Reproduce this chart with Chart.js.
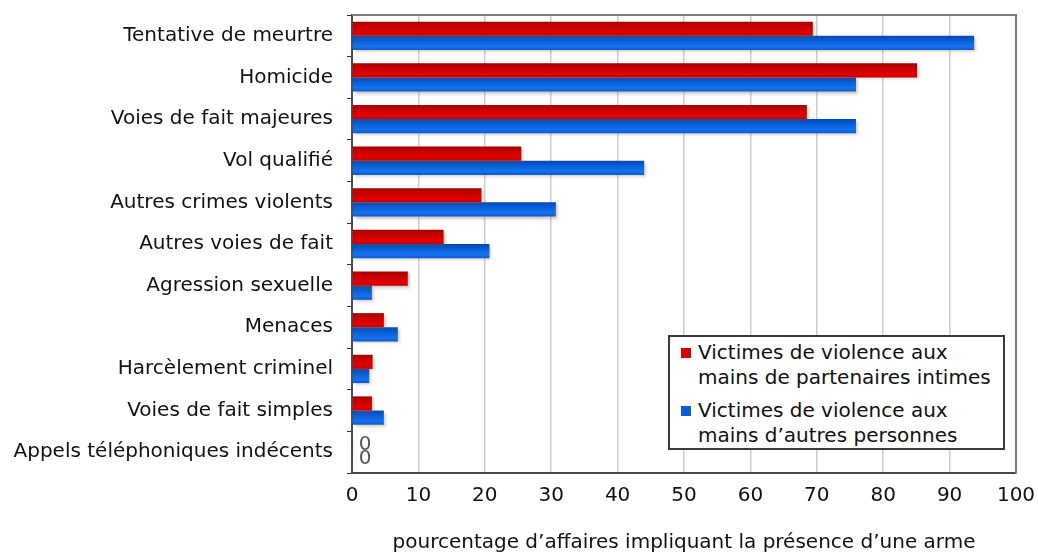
<!DOCTYPE html>
<html lang="fr">
<head>
<meta charset="utf-8">
<script src="https://cdn.jsdelivr.net/npm/chart.js@4"></script>
<style>
  html, body { margin: 0; padding: 0; background: #fff; }
  #wrap { position: relative; width: 1038px; height: 555px; }
  #legend {
    position: absolute; left: 668px; top: 335px; width: 333px; height: 108px;
    border: 2px solid #3a3a3a; background: #fff;
    font-family: "DejaVu Sans", sans-serif; font-size: 20px; line-height: 25px; color: #111;
    padding-top: 3px; box-sizing: content-box;
  }
  #legend .item { position: relative; padding-left: 28px; margin-bottom: 8px; white-space: nowrap; }
  #legend .swatch { position: absolute; left: 11px; top: 8px; width: 10px; height: 10px; }
</style>
</head>
<body>
<div id="wrap">
  <canvas id="chart" width="1038" height="555"></canvas>
  <div id="legend"></div>
</div>
<script>
const categories = [
    'Tentative de meurtre',
    'Homicide',
    'Voies de fait majeures',
    'Vol qualifié',
    'Autres crimes violents',
    'Autres voies de fait',
    'Agression sexuelle',
    'Menaces',
    'Harcèlement criminel',
    'Voies de fait simples',
    'Appels téléphoniques indécents',
];
const partenairesIntimes = [69.4, 85.1, 68.5, 25.5, 19.5, 13.8, 8.4, 4.8, 3.1, 3.0, 0];
const autresPersonnes = [93.7, 75.9, 75.9, 44.0, 30.7, 20.7, 3.0, 6.9, 2.6, 4.8, 0];
const xTicks = [0, 10, 20, 30, 40, 50, 60, 70, 80, 90, 100];

const legendLabels = [
    ['Victimes de violence aux', 'mains de partenaires intimes'],
    ['Victimes de violence aux', 'mains d\u2019autres personnes'],
];
const colors = ['#d40000', '#0a5fd8'];
const gradients = [
    ['#a40000', '#c80000', '#e00000', '#c40000'],
    ['#0048b4', '#085ed6', '#1672ee', '#085ad0'],
];

const font = '"DejaVu Sans", sans-serif';

// gives each bar a vertical gradient + soft shadow, like the original 3D-ish bars
const barLook = {
    id: 'barLook',
    beforeDatasetsDraw(chart) {
        const ctx = chart.ctx;
        chart.data.datasets.forEach((ds, i) => {
            chart.getDatasetMeta(i).data.forEach((bar) => {
                const h = bar.height;
                const g = ctx.createLinearGradient(0, bar.y - h / 2, 0, bar.y + h / 2);
                const stops = gradients[i];
                g.addColorStop(0, stops[0]);
                g.addColorStop(0.35, stops[1]);
                g.addColorStop(0.75, stops[2]);
                g.addColorStop(1, stops[3]);
                // options are shared between bars, so give each bar its own copy
                bar.options = { ...bar.options, backgroundColor: g };
            });
        });
        ctx.save();
        ctx.shadowColor = 'rgba(120, 90, 60, 0.35)';
        ctx.shadowBlur = 3;
        ctx.shadowOffsetX = 2;
        ctx.shadowOffsetY = 2;
    },
    afterDatasetsDraw(chart) {
        const ctx = chart.ctx;
        ctx.restore();
        // zero labels
        ctx.save();
        ctx.font = '20px ' + font;
        ctx.fillStyle = '#555';
        ctx.textBaseline = 'middle';
        chart.data.datasets.forEach((ds, i) => {
            chart.getDatasetMeta(i).data.forEach((bar, j) => {
                if (ds.data[j] === 0) {
                    ctx.fillText('0', bar.base + 6, bar.y);
                }
            });
        });
        ctx.restore();
        // frame on top and right
        const a = chart.chartArea;
        ctx.save();
        ctx.strokeStyle = '#7a7a7a';
        ctx.lineWidth = 2;
        ctx.beginPath();
        ctx.moveTo(a.left, a.top);
        ctx.lineTo(a.right, a.top);
        ctx.lineTo(a.right, a.bottom);
        ctx.stroke();
        ctx.restore();
    },
};

const chart = new Chart(document.getElementById('chart'), {
    type: 'bar',
    data: {
        labels: categories,
        datasets: [
            { label: legendLabels[0].join(' '), data: partenairesIntimes, backgroundColor: colors[0] },
            { label: legendLabels[1].join(' '), data: autresPersonnes, backgroundColor: colors[1] },
        ],
    },
    options: {
        indexAxis: 'y',
        responsive: false,
        animation: false,
        layout: { padding: { top: 15, right: 22, left: 0, bottom: 0 } },
        datasets: {
            bar: { categoryPercentage: 0.68, barPercentage: 1.0, minBarLength: 1 },
        },
        scales: {
            x: {
                min: 0,
                max: 100,
                afterBuildTicks: (scale) => {
                    scale.ticks = xTicks.map((v) => ({ value: v }));
                },
                afterFit: (scale) => {
                    scale.height = 82;
                    scale.paddingLeft = 0;
                    scale.paddingRight = 0;
                },
                grid: { color: '#cdcdcd', lineWidth: 1.5, drawTicks: false },
                border: { color: '#4a4a4a', width: 2 },
                ticks: { padding: 11, color: '#111', font: { family: font, size: 20 } },
                title: {
                    display: true,
                    text: 'pourcentage d\u2019affaires impliquant la présence d\u2019une arme',
                    color: '#111',
                    font: { family: font, size: 20 },
                    padding: { top: 0, bottom: 0 },
                },
            },
            y: {
                afterFit: (scale) => {
                    scale.width = 352;
                    scale.paddingTop = 0;
                    scale.paddingBottom = 0;
                },
                grid: { drawOnChartArea: false, tickLength: 5, color: '#333', offset: true },
                border: { color: '#4a4a4a', width: 2 },
                ticks: { padding: 14, color: '#111', font: { family: font, size: 20 } },
            },
        },
        plugins: {
            legend: { display: false },
            tooltip: { enabled: false },
        },
    },
    plugins: [barLook],
});

// html legend built from the series labels
const legend = document.getElementById('legend');
legendLabels.forEach((lines, i) => {
    const item = document.createElement('div');
    item.className = 'item';
    item.innerHTML = '<span class="swatch" style="background:' + colors[i] + '"></span>' + lines.join('<br>');
    legend.appendChild(item);
});
</script>
</body>
</html>
